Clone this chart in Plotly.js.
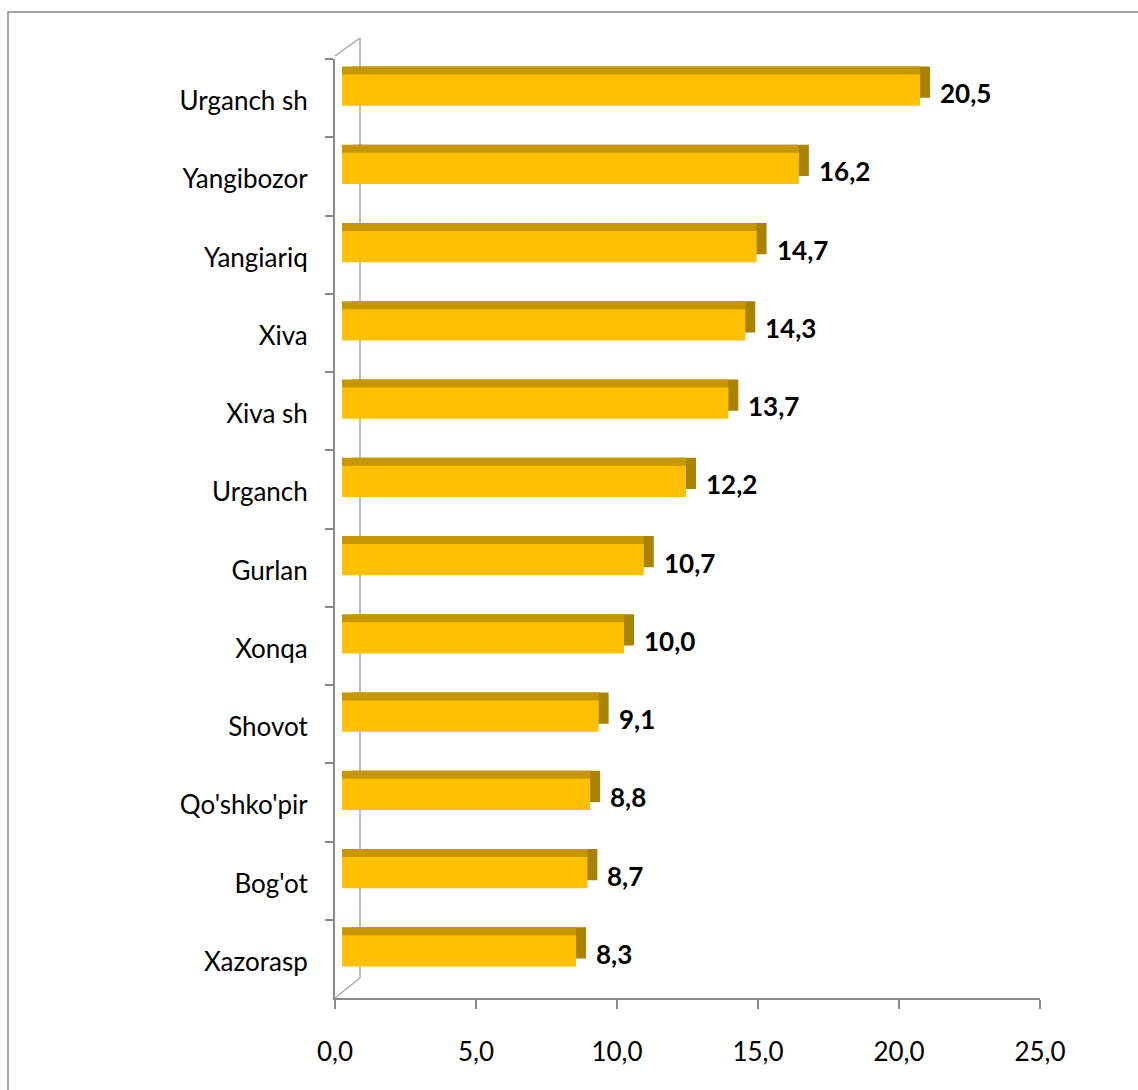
<!DOCTYPE html>
<html>
<head>
<meta charset="utf-8">
<script src="https://cdn.plot.ly/plotly-3.0.1.min.js"></script>
<style>html,body{margin:0;padding:0;background:#fff;}#chart{width:1138px;height:1090px;}</style>
</head>
<body>
<div id="chart"></div>
<script>
// ---- data ----
const categories = ["Urganch sh","Yangibozor","Yangiariq","Xiva","Xiva sh","Urganch","Gurlan","Xonqa","Shovot","Qo'shko'pir","Bog'ot","Xazorasp"];
const values = [20.5,16.2,14.7,14.3,13.7,12.2,10.7,10.0,9.1,8.8,8.7,8.3];
const xTickVals = [0,5,10,15,20,25];

// ---- geometry (pixels) ----
const W = 1138, H = 1090;
const L = 335, R = 1040, T = 59, B = 998;
const PW = R - L, PH = B - T;
const XMAX = 25;
const n = categories.length;
const pxPerX = PW / XMAX;
const pxPerCat = PH / n;
// 3D offsets
const frontDx = 7, frontDy = 8;
const backDy = 16;
const sideDx = 10;
const depthX = 25, depthY = 21;

const FONT = "Lato, 'Open Sans', sans-serif";
const GRAY = "#8a8a8a";

function xr(dx){ return [-dx/pxPerX, XMAX - dx/pxPerX]; }
function yr(dy){ return [n - 0.5 + dy/pxPerCat, -0.5 + dy/pxPerCat]; }
function px2paperX(p){ return (p - L)/PW; }
function px2paperY(p){ return (B - p)/PH; }

const sideShift = sideDx / pxPerX;

const traces = [
  { // anchor trace for the main axes (invisible)
    type:'scatter', mode:'markers', y:categories, x:values,
    xaxis:'x', yaxis:'y', marker:{opacity:0}, hoverinfo:'skip', showlegend:false
  },
  { // side face (darkest), shifted by depth
    type:'bar', orientation:'h', y:categories, x:values, base:sideShift,
    xaxis:'x2', yaxis:'y2', width:0.4,
    marker:{color:'#A98200', line:{width:0}}, hoverinfo:'skip', showlegend:false
  },
  { // top face
    type:'bar', orientation:'h', y:categories, x:values,
    xaxis:'x2', yaxis:'y2', width:0.4,
    marker:{color:'#C69700', line:{width:0}}, hoverinfo:'skip', showlegend:false
  },
  { // front face
    type:'bar', orientation:'h', y:categories, x:values,
    xaxis:'x3', yaxis:'y3', width:0.4,
    marker:{color:'#FFC000', line:{width:0}}, showlegend:false
  }
];

const annotations = values.map((v,i)=>({
  xref:'x2', yref:'y', x:v, y:categories[i],
  text:v.toFixed(1).replace('.', ','),
  showarrow:false, xanchor:'left', yanchor:'middle', xshift:sideDx+8, yshift:5,
  font:{family:FONT, size:26, color:'#000', weight:'bold'}
}));

const shapes = [
  // outer chart border
  {type:'rect', xref:'paper', yref:'paper', layer:'below',
   x0:px2paperX(8), x1:px2paperX(1150), y0:px2paperY(1100), y1:px2paperY(12),
   line:{color:'#8a8a8a', width:1.5}, fillcolor:'rgba(0,0,0,0)'},
  // back wall edges
  {type:'line', xref:'paper', yref:'paper', layer:'below', x0:px2paperX(L), y0:px2paperY(T-3), x1:px2paperX(L+depthX), y1:px2paperY(T-depthY), line:{color:'#a8a8a8', width:1.5}},
  {type:'line', xref:'paper', yref:'paper', layer:'below', x0:px2paperX(L+depthX), y0:px2paperY(T-depthY), x1:px2paperX(L+depthX), y1:px2paperY(B-20), line:{color:'#a8a8a8', width:1.5}},
  {type:'line', xref:'paper', yref:'paper', layer:'below', x0:px2paperX(L), y0:px2paperY(B), x1:px2paperX(L+depthX), y1:px2paperY(B-20), line:{color:'#a8a8a8', width:1.5}}
];

const layout = {
  width:W, height:H,
  margin:{l:L, r:W-R, t:T, b:H-B, pad:0},
  paper_bgcolor:'#fff', plot_bgcolor:'rgba(0,0,0,0)',
  separators:', ',
  font:{family:FONT, size:26, color:'#000'},
  barmode:'overlay',
  showlegend:false,
  xaxis:{
    range:[0,XMAX], domain:[0,1], tickvals:xTickVals, tickformat:'.1f',
    showgrid:false, zeroline:false, showline:true, linecolor:GRAY, linewidth:2,
    ticks:'outside', ticklen:9, tickwidth:2, tickcolor:GRAY,
    ticklabelstandoff:21, tickfont:{family:FONT, size:26, color:'#000'},
    fixedrange:true
  },
  xaxis2:{range:xr(frontDx), overlaying:'x', anchor:'y', visible:false, fixedrange:true},
  xaxis3:{range:xr(frontDx), overlaying:'x', anchor:'y', visible:false, fixedrange:true},
  yaxis:{
    type:'category', categoryorder:'array', categoryarray:categories,
    range:yr(0), showgrid:false, zeroline:false,
    showline:true, linecolor:GRAY, linewidth:2,
    ticks:'outside', tickson:'boundaries', ticklen:8, tickwidth:2, tickcolor:GRAY,
    ticklabelstandoff:20, ticklabelshift:-3, tickfont:{family:FONT, size:26, color:'#000'},
    fixedrange:true
  },
  yaxis2:{type:'category', categoryorder:'array', categoryarray:categories, range:yr(backDy), overlaying:'y', anchor:'x', visible:false, fixedrange:true},
  yaxis3:{type:'category', categoryorder:'array', categoryarray:categories, range:yr(frontDy), overlaying:'y', anchor:'x', visible:false, fixedrange:true},
  shapes:shapes,
  annotations:annotations
};

Plotly.newPlot('chart', traces, layout, {displayModeBar:false, staticPlot:true});
</script>
</body>
</html>
